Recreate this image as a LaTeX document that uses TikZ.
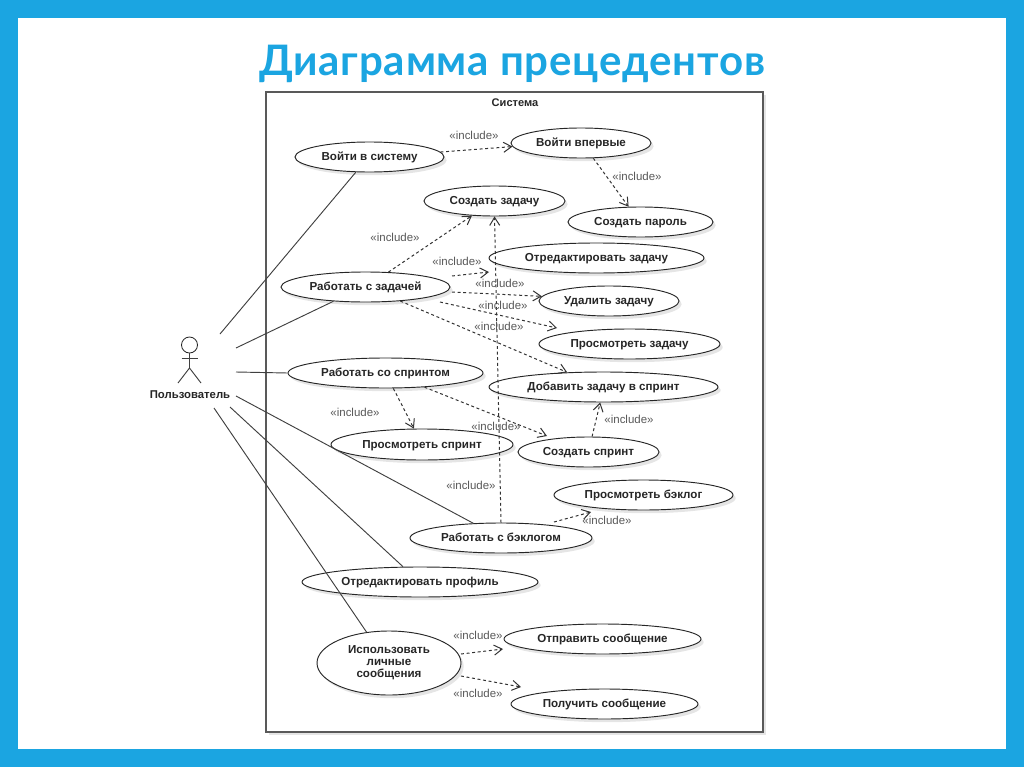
\documentclass[tikz,border=0pt]{standalone}
\usepackage{fontspec}
\setmainfont{Liberation Sans}
\newfontfamily\titlefont[LetterSpace=1.9]{Lato}
\usetikzlibrary{shapes.geometric,shadows,arrows.meta}
\definecolor{frameblue}{HTML}{1BA5E1}
\begin{document}
\begin{tikzpicture}[x=0.75pt,y=-0.75pt,
  usecase/.style={ellipse,draw=black!85,fill=white,line width=0.7pt,inner sep=0,
    drop shadow={shadow xshift=2pt,shadow yshift=-2.4pt,fill=gray,opacity=0.2},
    font=\fontsize{8.7}{9}\selectfont\bfseries,align=center,text=black!85},
  incl/.style={font=\fontsize{8.6}{9.6}\selectfont,text=black!65,inner sep=0},
  assoc/.style={draw=black!75,line width=0.7pt},
  dep/.style={draw=black!80,line width=0.75pt,dash pattern=on 2.2pt off 2pt,-{Straight Barb[length=6pt,width=7.5pt]}}]
\useasboundingbox(0,0)rectangle(1024,767);
\fill[frameblue](0,0)rectangle(1024,767);
\fill[white](18,18)rectangle(1006,748.5);
\node[font=\titlefont\fontsize{31.5}{36}\selectfont\bfseries,text=frameblue,inner sep=0,anchor=base](title)at(512,75){Диаграмма прецедентов};
% system box
\node[draw=black!65,fill=white,line width=1pt,minimum width=372.75pt,minimum height=480pt,inner sep=0,
  drop shadow={shadow xshift=2pt,shadow yshift=-2pt,fill=gray,opacity=0.2}](system)at(514.5,412){};
\node[font=\fontsize{8.3}{9.6}\selectfont\bfseries,text=black!85,inner sep=0](systemname)at(515,103){Система};
% actor
\node[circle,draw=black!85,line width=0.6pt,minimum size=12pt,inner sep=0](head)at(189.5,345){};
\coordinate(neck)at(189.5,368);
\coordinate(armL)at(181.5,358);\coordinate(armR)at(198,358);
\coordinate(legL)at(178,383);\coordinate(legR)at(201,383);
\draw[assoc](head.south)--(neck);
\draw[assoc](armL)--(armR);
\draw[assoc](legL)--(neck)--(legR);
\node[font=\fontsize{8.5}{9.6}\selectfont\bfseries,text=black!85,inner sep=0](user)at(190,395){Пользователь};
% use cases
\foreach \name/\cx/\cy/\w/\h/\txt in {
  login/369.5/157/149/30/Войти в систему,
  first/581/143/140/30/Войти впервые,
  password/640.5/222/145/30/Создать пароль,
  newtask/494.5/201/141/30/Создать задачу,
  edittask/596.5/258/215/30/Отредактировать задачу,
  task/365.5/287/169/30/Работать с задачей,
  deltask/609/301/140/30/Удалить задачу,
  viewtask/629.5/344/181/30/Просмотреть задачу,
  sprint/385.5/373/195/30/Работать со спринтом,
  addtask/603.5/387/229/30/Добавить задачу в спринт,
  viewsprint/422/444.5/182/31/Просмотреть спринт,
  newsprint/588.5/452/141/30/Создать спринт,
  viewlog/643.5/495/179/30/Просмотреть бэклог,
  backlog/501/538/182/30/Работать с бэклогом,
  profile/420/582/236/30/Отредактировать профиль,
  sendmsg/602.5/639/197/30/Отправить сообщение,
  getmsg/604.5/704/187/30/Получить сообщение}
  \node[usecase,text height=6.5pt,text depth=1.2pt,minimum width=\w*0.75pt,minimum height=\h*0.75pt](\name)at(\cx,\cy){\txt};
\node[usecase,minimum width=108pt,minimum height=48pt](messages)at(389,663){Использовать\\личные\\сообщения};
% free ends
\coordinate(a1)at(220,334);\coordinate(a2)at(236,348);\coordinate(a3)at(236,372);
\coordinate(a4)at(236,396);\coordinate(a5)at(230,407);\coordinate(a6)at(214,408);
\coordinate(t1)at(452,276);\coordinate(t2)at(489,272);
\coordinate(t3)at(452,292);
\coordinate(t4)at(440,302);\coordinate(t5)at(557,328);
\coordinate(s1)at(547,436);
\coordinate(m1)at(461,654);\coordinate(m2)at(503,649);
\coordinate(m3)at(461,676);\coordinate(m4)at(521,687);
\coordinate(b1)at(554,522);\coordinate(b2)at(591,512);
% actor lines
\draw[assoc](a1)--(login.228);
\draw[assoc](a2)--(task.204);
\draw[assoc](a3)--(sprint.west);
\draw[assoc](a4)--(backlog.152);
\draw[assoc](a5)--(profile.138);
\draw[assoc](a6)--(messages.126);
% includes
\draw[dep](login.4)--(first.183);
\draw[dep](first.-51)--(password.128);
\draw[dep](task.33)--(newtask.213);
\draw[dep](t1)--(t2);
\draw[dep](t3)--(deltask.176);
\draw[dep](t4)--(t5);
\draw[dep](task.-22)--(addtask.158);
\draw[dep](sprint.-63)--(viewsprint.117);
\draw[dep](sprint.-20)--(s1);
\draw[dep](newsprint.77)--(addtask.-102);
\draw[dep](backlog.90)--(newtask.-90);
\draw[dep](b1)--(b2);
\draw[dep](m1)--(m2);
\draw[dep](m3)--(m4);
\foreach \px/\py [count=\i] in {395/237,474/135,637/176,457/261,500/283,503/305,499/326,355/412,629/419,496/426,471/485,607/520,478/635,478/693}
  \node[incl](inc\i)at(\px,\py){«include»};
\end{tikzpicture}
\end{document}
